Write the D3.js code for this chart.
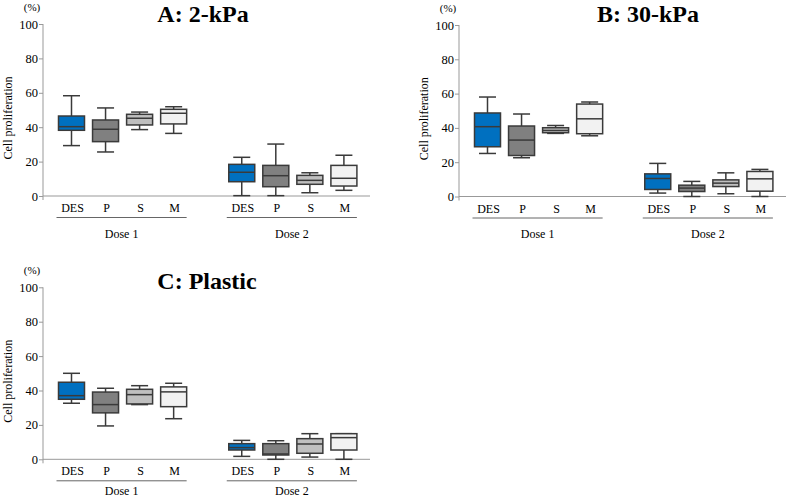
<!DOCTYPE html>
<html>
<head>
<meta charset="utf-8">
<script src="https://cdn.jsdelivr.net/npm/d3@7"></script>
<style>
  body { margin: 0; background: #fff; }
  text { font-family: "Liberation Serif", "Times New Roman", serif; fill: #000; }
</style>
</head>
<body>
<div id="chart"></div>
<script>
// box plot data, one row per box: [min, q1, median, q3, max]
var groups = ["DES", "P", "S", "M"];
var doses = ["Dose 1", "Dose 2"];
var yTicks = [0, 20, 40, 60, 80, 100];
var titles = ["A: 2-kPa", "B: 30-kPa", "C: Plastic"];

var statsA = [
  [29.3, 38.2, 40.3, 46.5, 58.3],
  [25.6, 31.6, 38.8, 44.2, 51.2],
  [38.6, 41.3, 45.2, 47.5, 48.8],
  [36.4, 41.9, 48.1, 50.4, 51.9],
  [0.2, 8.3, 13.8, 18.4, 22.5],
  [0.2, 5.4, 11.8, 17.8, 30.2],
  [1.9, 6.8, 9.1, 12.0, 13.5],
  [3.3, 5.8, 10.3, 17.8, 23.7]
];
var statsB = [
  [25.1, 29.0, 40.7, 48.7, 58.0],
  [22.6, 23.9, 32.9, 41.1, 48.1],
  [36.8, 37.2, 38.5, 40.1, 41.4],
  [35.4, 36.6, 45.3, 53.9, 55.1],
  [2.0, 4.1, 10.5, 13.2, 19.3],
  [0.0, 2.9, 4.9, 6.6, 8.8],
  [1.6, 5.8, 7.8, 9.7, 13.8],
  [0.0, 3.1, 10.3, 14.6, 15.8]
];
var statsC = [
  [32.6, 34.9, 37.0, 44.8, 50.0],
  [19.4, 27.0, 31.8, 39.1, 41.3],
  [31.8, 32.2, 37.6, 40.7, 42.8],
  [23.6, 30.6, 39.2, 42.1, 44.2],
  [1.7, 5.4, 6.8, 9.1, 11.0],
  [0.0, 2.5, 3.1, 9.1, 10.8],
  [1.3, 3.5, 8.9, 12.0, 14.9],
  [0.0, 5.4, 12.6, 14.9, 14.9]
];

var fills = ["#0070c0", "#808080", "#bfbfbf", "#f2f2f2"];
var strokeColor = "#3a3a3a";
var axisColor = "#999";

var width = 787, height = 499;

// panel layout: axis x, y of 0 and 100, title position
var panels = [
  { stats: statsA, title: titles[0], x0: 43, zero: 196, top: 24, tx: 203, ty: 22, doseDy: 20 },
  { stats: statsB, title: titles[1], x0: 459, zero: 196.5, top: 25, tx: 648, ty: 22, doseDy: 20 },
  { stats: statsC, title: titles[2], x0: 43, zero: 459.3, top: 287.3, tx: 207, ty: 289, doseDy: 14.5 }
];

var axisLength = 327;
var boxWidth = 26;
var capWidth = 17;

var svg = d3.select("#chart")
  .append("svg")
  .attr("width", width)
  .attr("height", height);

panels.forEach(function(p) {
  var g = svg.append("g");

  var y = d3.scaleLinear().domain([0, 100]).range([p.zero, p.top]);
  // 9 slots, slot 4 is the gap between doses
  var x = d3.scaleLinear().domain([0, 8]).range([p.x0 + 28.5, p.x0 + 300.9]);

  // title
  g.append("text")
    .attr("x", p.tx)
    .attr("y", p.ty)
    .attr("text-anchor", "middle")
    .style("font-size", "24px")
    .style("font-weight", "bold")
    .text(p.title);

  // y axis
  var yAxis = g.append("g")
    .attr("transform", `translate(${p.x0}, 0)`)
    .call(d3.axisLeft(y).tickValues(yTicks).tickSize(4).tickSizeOuter(0));
  yAxis.select(".domain").remove();
  yAxis.selectAll("line").attr("stroke", axisColor);
  yAxis.selectAll("text")
    .attr("x", -5)
    .attr("fill", "#000")
    .style("font-family", "'Liberation Serif', serif")
    .style("font-size", "12.5px");

  g.append("line")
    .attr("x1", p.x0).attr("x2", p.x0)
    .attr("y1", p.top).attr("y2", p.zero + 4)
    .attr("stroke", axisColor);

  // baseline
  g.append("line")
    .attr("x1", p.x0).attr("x2", p.x0 + axisLength)
    .attr("y1", p.zero).attr("y2", p.zero)
    .attr("stroke", axisColor);

  // unit and axis title
  g.append("text")
    .attr("x", p.x0 - 11)
    .attr("y", p.top - 13)
    .attr("text-anchor", "middle")
    .style("font-size", "11px")
    .text("(%)");

  g.append("text")
    .attr("transform", `translate(${p.x0 - 31}, ${(p.top + p.zero) / 2 + 8}) rotate(-90)`)
    .attr("text-anchor", "middle")
    .style("font-size", "12px")
    .text("Cell proliferation");

  // boxes
  p.stats.forEach(function(s, i) {
    var slot = i < 4 ? i : i + 1;
    var cx = x(slot);
    var fill = fills[i % 4];
    var bg = g.append("g");

    bg.append("line")
      .attr("x1", cx).attr("x2", cx)
      .attr("y1", y(s[0])).attr("y2", y(s[4]))
      .attr("stroke", strokeColor).attr("stroke-width", 1.5);

    [s[0], s[4]].forEach(function(v) {
      bg.append("line")
        .attr("x1", cx - capWidth / 2).attr("x2", cx + capWidth / 2)
        .attr("y1", y(v)).attr("y2", y(v))
        .attr("stroke", strokeColor).attr("stroke-width", 1.5);
    });

    bg.append("rect")
      .attr("x", cx - boxWidth / 2)
      .attr("y", y(s[3]))
      .attr("width", boxWidth)
      .attr("height", y(s[1]) - y(s[3]))
      .attr("fill", fill)
      .attr("stroke", strokeColor)
      .attr("stroke-width", 1.5);

    bg.append("line")
      .attr("x1", cx - boxWidth / 2).attr("x2", cx + boxWidth / 2)
      .attr("y1", y(s[2])).attr("y2", y(s[2]))
      .attr("stroke", strokeColor).attr("stroke-width", 1.5);

    // category label
    g.append("text")
      .attr("x", cx + 1)
      .attr("y", p.zero + 16)
      .attr("text-anchor", "middle")
      .style("font-size", "12px")
      .text(groups[i % 4]);
  });

  // dose brackets
  doses.forEach(function(d, k) {
    var a = x(k * 5) - 15;
    var b = x(k * 5 + 3) + 13;
    g.append("line")
      .attr("x1", a).attr("x2", b)
      .attr("y1", p.zero + 21.5).attr("y2", p.zero + 21.5)
      .attr("stroke", "#666");
    g.append("text")
      .attr("x", (a + b) / 2)
      .attr("y", p.zero + 21.5 + p.doseDy)
      .attr("text-anchor", "middle")
      .style("font-size", "12px")
      .text(d);
  });
});
</script>
</body>
</html>
